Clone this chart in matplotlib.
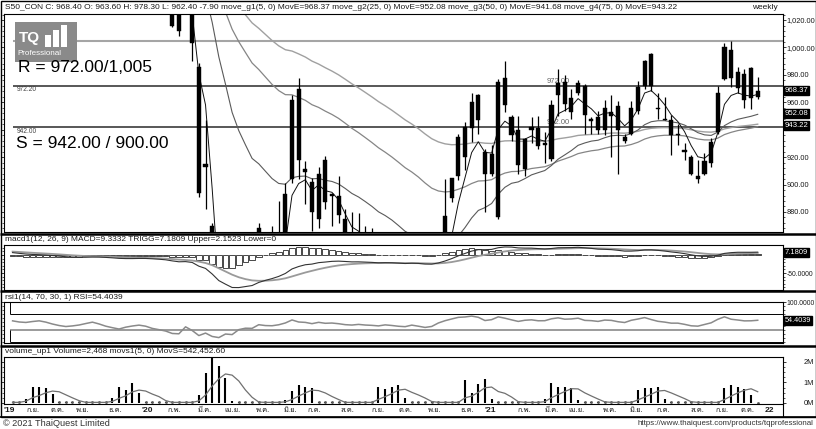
import numpy as np
import pandas as pd
import matplotlib
matplotlib.use("Agg")
import matplotlib.pyplot as plt
import matplotlib.transforms as mtransforms
from matplotlib import font_manager
from matplotlib.ft2font import FT2Font
from matplotlib.patches import Rectangle
from matplotlib.ticker import FixedLocator, MultipleLocator

# ---------------- data (weekly, S50 continuous futures) ----------------
pre_close = [1075, 1085, 1095, 1100, 1105, 1108, 1102, 1098, 1095, 1100,
             1105, 1112, 1118, 1115, 1108, 1095, 1090, 1098, 1105, 1115,
             1122, 1128, 1132, 1138, 1135, 1140, 1136, 1128, 1120, 1112]

open_ = [1112, 1105, 1100, 1098, 1102, 1105, 1100, 1092, 1085, 1080,
         1082, 1085, 1090, 1095, 1088, 1078, 1070, 1062, 1068, 1072,
         1075, 1070, 1058, 1050, 1040, 1030, 1030, 1040, 986, 915,
         870, 775, 690, 735, 705, 780, 805, 805, 860, 845,
         845, 858, 904, 970, 911, 902, 875, 918, 893, 892,
         875, 858, 850, 860, 848, 842, 832, 845, 835, 822,
         815, 832, 815, 795, 805, 845, 890, 906, 920, 941,
         965, 924, 908, 876, 978, 949, 940, 911, 942, 941,
         930, 919, 965, 975, 953, 967, 972, 946, 949, 940,
         950, 957, 935, 937, 954, 972, 995, 956, 947.5, 947,
         937, 925.5, 920, 906, 908, 916, 938.5, 977, 998, 982,
         981, 985, 963.6]
high = [1118, 1112, 1108, 1110, 1112, 1110, 1104, 1096, 1090, 1090,
        1092, 1096, 1102, 1098, 1092, 1082, 1074, 1072, 1078, 1080,
        1082, 1074, 1064, 1056, 1046, 1032, 1048, 1046, 989, 947,
        872, 800, 760, 752, 790, 815, 822, 872, 864, 870,
        888, 901, 965, 978, 917, 905, 913, 921, 894, 906,
        882, 880, 879, 870, 868, 858, 852, 856, 850, 838,
        842, 845, 830, 815, 852, 904, 905, 937, 945.6, 967,
        966, 926, 929, 977, 990, 950.4, 950, 934, 949, 950,
        938, 962, 984, 980, 970, 976, 973, 949, 954, 962,
        965, 961, 937, 961, 975.6, 991, 996, 967, 963.6, 950.4,
        944.4, 930, 921.6, 918, 922.8, 933.6, 972, 1003, 1005, 986,
        984, 985.5, 978.3]
low = [1098, 1092, 1090, 1094, 1096, 1093, 1086, 1078, 1072, 1075,
       1076, 1080, 1086, 1082, 1072, 1064, 1055, 1058, 1064, 1066,
       1064, 1052, 1044, 1034, 1015, 1008, 1027, 990, 891, 882,
       745, 640, 645, 690, 700, 770, 790, 800, 835, 830,
       840, 855, 901, 904, 886, 866, 868, 882, 870, 872,
       850, 845, 842, 840, 835, 825, 820, 828, 815, 805,
       808, 810, 790, 785, 800, 840, 887, 903.6, 910.8, 931,
       937, 880, 906, 875, 953, 932, 908, 906, 930, 926,
       916, 917, 950, 954, 948, 965, 937, 937, 937, 936,
       920, 908, 930, 936, 951.6, 970, 968, 948, 946.8, 921.6,
       928.8, 918, 907.2, 901, 907.2, 913, 937.2, 976, 970.8, 967,
       956, 955, 962.4]
close = [1105, 1100, 1098, 1102, 1105, 1100, 1092, 1085, 1080, 1082,
         1085, 1090, 1095, 1088, 1078, 1070, 1062, 1068, 1072, 1075,
         1070, 1058, 1050, 1040, 1016, 1012, 1040, 1003, 894, 913,
         775, 690, 735, 705, 780, 805, 800, 868, 845, 840,
         858, 893, 962, 918, 909, 880, 908, 887, 892, 878,
         858, 850, 860, 848, 842, 832, 845, 835, 822, 815,
         832, 815, 795, 805, 845, 877, 905, 935, 942, 960,
         947, 908, 922, 975, 958, 936, 914, 933, 940, 928,
         929, 958, 974, 959, 963, 974, 951, 948, 940, 956,
         953, 940, 932, 956, 971, 990, 972, 955, 947, 936,
         936, 924, 908, 904, 917, 931, 967, 1000, 978, 970.5,
         962, 962.95, 968.4]
# volume in millions of contracts
volume_m = [0.03, 0.03, 0.20, 0.77, 0.77, 0.72, 0.44, 0.03, 0.03, 0.03,
            0.03, 0.03, 0.03, 0.03, 0.03, 0.26, 0.77, 0.65, 0.99, 0.47,
            0.03, 0.03, 0.03, 0.03, 0.03, 0.03, 0.03, 0.03, 0.39, 1.45,
            2.23, 1.80, 1.20, 0.10, 0.03, 0.03, 0.03, 0.03, 0.03, 0.03,
            0.03, 0.15, 0.60, 0.88, 0.78, 0.72, 0.03, 0.03, 0.03, 0.03,
            0.03, 0.03, 0.03, 0.03, 0.03, 0.77, 0.68, 0.77, 0.88, 0.24,
            0.03, 0.03, 0.03, 0.03, 0.03, 0.03, 0.03, 0.03, 1.12, 0.47,
            0.93, 1.16, 0.20, 0.03, 0.03, 0.03, 0.03, 0.03, 0.03, 0.03,
            0.20, 0.99, 0.80, 0.77, 0.72, 0.15, 0.03, 0.03, 0.03, 0.03,
            0.03, 0.03, 0.03, 0.03, 0.63, 0.72, 0.72, 0.80, 0.18, 0.03,
            0.03, 0.03, 0.03, 0.03, 0.03, 0.03, 0.03, 0.72, 0.88, 0.80,
            0.67, 0.39, 0.0025]

month_labels = ["'19", "ก.ย.", "ต.ค.", "พ.ย.", "ธ.ค.", "'20", "ก.พ.", "มี.ค.", "เม.ย.", "พ.ค.",
                "มิ.ย.", "ก.ค.", "ส.ค.", "ก.ย.", "ต.ค.", "พ.ย.", "ธ.ค.", "'21", "ก.พ.", "มี.ค.",
                "เม.ย.", "พ.ค.", "มิ.ย.", "ก.ค.", "ส.ค.", "ก.ย.", "ต.ค.", "22"]
month_pos = [-0.5, 3.1, 6.8, 10.6, 15.4, 20.2, 24.4, 28.8, 33.1, 37.6,
             41.7, 45.4, 50.4, 54.9, 59.0, 63.5, 68.3, 71.8, 77.0, 81.1,
             84.8, 89.8, 93.8, 97.8, 102.9, 106.6, 110.5, 113.8]

price_ticks = [880, 900, 920, 940, 960, 980, 1000, 1020]
resistance_lines = [1005.0, 972.2]
support_lines = [942.0]
price_boxes = [968.37, 952.08, 943.22]   # MovE 5 / 25 / 75
macd_box = 7.1809
rsi_box = 54.4039

header_main = ("S50_CON C: 968.40 O: 963.60 H: 978.30 L: 962.40 -7.90 move_g1(5, 0) MovE=968.37 "
               "move_g2(25, 0) MovE=952.08 move_g3(50, 0) MovE=941.68 move_g4(75, 0) MovE=943.22")
header_macd = "macd1(12, 26, 9) MACD=9.3332 TRIGG=7.1809 Upper=2.1523 Lower=0"
header_rsi = "rsi1(14, 70, 30, 1) RSI=54.4039"
header_vol = "volume_up1 Volume=2,468 movs1(5, 0) MovS=542,452.60"

# ---------------- fonts ----------------
def font_with(ch):
    for fe in font_manager.fontManager.ttflist:
        try:
            if ord(ch) in FT2Font(fe.fname).get_charmap():
                return fe.name
        except Exception:
            continue
    return None

thai = font_with("ก")
fams = ["Liberation Sans"] + ([thai] if thai else []) + ["DejaVu Sans"]
plt.rcParams["font.family"] = fams

# ---------------- indicators ----------------
c_all = pd.Series(pre_close + close, dtype=float)
npre = len(pre_close)
def ema(s, n):
    return s.ewm(span=n, adjust=False).mean()
ma = {p: ema(c_all, p).iloc[npre:].to_numpy() for p in (5, 25, 50, 75)}
macd_all = ema(c_all, 12) - ema(c_all, 26)
trig_all = macd_all.ewm(span=9, adjust=False).mean()
macd = macd_all.iloc[npre:].to_numpy()
trig = trig_all.iloc[npre:].to_numpy()
hist = macd - trig
d = c_all.diff()
up = d.clip(lower=0).ewm(alpha=1 / 14, adjust=False).mean()
dn = (-d.clip(upper=0)).ewm(alpha=1 / 14, adjust=False).mean()
rsi = (100 - 100 / (1 + up / dn)).iloc[npre:].to_numpy()
vol = np.array(volume_m)
vol_ma = pd.Series(vol).rolling(5, min_periods=1).mean().to_numpy()

o = np.array(open_, float); c = np.array(close, float)
hi = np.array(high, float); lo = np.array(low, float)
x = np.arange(len(close))

# ---------------- figure ----------------
W, H = 816, 429
fig = plt.figure(figsize=(W / 100, H / 100), dpi=100)

def px_axes(x0, y0, x1, y1, **kw):
    return fig.add_axes([x0 / W, 1 - y1 / H, (x1 - x0) / W, (y1 - y0) / H], **kw)

X0, X1 = 4, 783
XL = (-1.29, 115.8)
TXT = "#1a1a1a"
LFS = 5.3

def style(a, lfs=LFS):
    a.set_xlim(*XL)
    for s in a.spines.values():
        s.set_linewidth(0.8)
        s.set_color("black")
    a.tick_params(axis="y", which="both", left=True, right=True, labelleft=False,
                  labelright=True, direction="out", labelsize=lfs, pad=0.6, colors=TXT)
    a.tick_params(axis="y", which="major", length=2.0, width=0.6)
    a.tick_params(axis="y", which="minor", length=1.3, width=0.5)

def box(a, v, s, fs=LFS):
    tr = mtransforms.blended_transform_factory(a.transAxes, a.transData)
    a.text(1.002, v, s, transform=tr, ha="left", va="center", fontsize=fs, color="white",
           bbox=dict(boxstyle="square,pad=0.12", fc="black", ec="black"), clip_on=False, zorder=6)

# main price panel
ax = px_axes(X0, 14, X1, 232)
style(ax)
ax.set_ylim(865.4, 1024.4)
ax.hlines(resistance_lines[0], 0, XL[1], color="#a5a5a5", lw=1.5, zorder=1)
ax.hlines(resistance_lines[1:] + support_lines, 0, XL[1], color="#2a2a2a", lw=1.1, zorder=1)
ax.plot(x, ma[75], color="#a0a0a0", lw=1.0, zorder=2)
ax.plot(x, ma[50], color="#858585", lw=0.9, zorder=2)
ax.plot(x, ma[25], color="#5a5a5a", lw=0.8, zorder=2)
ax.plot(x, ma[5], color="#101010", lw=0.7, zorder=2)
ax.vlines(x, lo, hi, color="black", lw=0.9, zorder=3)
ax.bar(x, np.maximum(np.abs(c - o), 0.5), bottom=np.minimum(o, c), width=0.62,
       color="black", edgecolor="black", lw=0.3, zorder=4)
ax.yaxis.set_major_locator(FixedLocator(price_ticks))
ax.yaxis.set_major_formatter(lambda v, p: "" if v == 940 else f"{v:,.2f}")
ax.yaxis.set_minor_locator(MultipleLocator(4))
ax.set_xticks([])
for v in price_boxes:
    box(ax, v, f"{v:.2f}", 5.6)
ax.text(0.7, resistance_lines[1] - 2.6, f"{resistance_lines[1]:.2f}", fontsize=4.8, color="#444", va="center")
ax.text(0.7, support_lines[0] - 3.6, f"{support_lines[0]:.2f}", fontsize=4.8, color="#444", va="center")
ax.text(80.3, resistance_lines[1] + 3.2, "972.00", fontsize=5.5, color="#666", va="center", zorder=2)
ax.text(80.3, support_lines[0] + 3.2, f"{support_lines[0]:.2f}", fontsize=5.5, color="#666", va="center", zorder=2)

# MACD panel
am = px_axes(X0, 245, X1, 290)
style(am, 4.9)
am.set_ylim(-97, 27.8)
am.bar(x, hist, width=0.85, color="white", edgecolor="black", lw=0.5, zorder=2)
am.plot(x, trig, color="#9a9a9a", lw=1.3, zorder=3)
am.plot(x, macd, color="#333333", lw=0.8, zorder=3)
am.set_yticks([-50, 0])
am.set_yticklabels(["-50.0000", ""])
am.yaxis.set_minor_locator(MultipleLocator(10))
am.set_xticks([])
box(am, macd_box, f"{macd_box:.4f}", 5.4)

# RSI panel
ar = px_axes(X0, 302, X1, 343)
style(ar, 4.9)
ar.set_ylim(-2, 101)
ar.hlines([100, 70, 0], -0.4, XL[1], color="black", lw=0.7)
ar.hlines([30], -0.4, XL[1], color="#8a8a8a", lw=1.2)
ar.vlines([-0.4, -0.4], [70, 0], [100, 30], color="black", lw=0.7)
ar.plot(x, rsi, color="#8a8a8a", lw=1.1)
ar.set_yticks([100])
ar.set_yticklabels(["100.0000"])
ar.yaxis.set_minor_locator(MultipleLocator(10))
ar.set_xticks([])
box(ar, rsi_box, f"{rsi_box:.4f}", 5.2)

# Volume panel
av = px_axes(X0, 357, X1, 404)
style(av)
av.set_ylim(-0.05, 2.24)
av.vlines(x, 0, vol, color="black", lw=1.5, zorder=2)
small = vol < 0.1
av.plot(x[small], vol[small], ls="none", marker="s", ms=0.9, color="#555555", zorder=2)
av.plot(x, vol_ma, color="#707070", lw=0.9, zorder=3)
av.set_yticks([0, 1, 2])
av.set_yticklabels(["0M", "1M", "2M"])
av.yaxis.set_minor_locator(MultipleLocator(0.25))
av.tick_params(axis="y", which="major", pad=13)
av.set_xticks(month_pos)
av.set_xticklabels(month_labels, fontsize=5.4, color=TXT)
av.tick_params(axis="x", length=0, pad=2.2)
for t in av.get_xticklabels():
    if t.get_text().startswith("'") or t.get_text() == "22":
        t.set_fontweight("bold")
        t.set_fontsize(6)

# ---------------- overlay decorations ----------------
ov = fig.add_axes([0, 0, 1, 1], zorder=20)
ov.set_xlim(0, W); ov.set_ylim(H, 0); ov.axis("off"); ov.patch.set_alpha(0)
ov.add_patch(Rectangle((0.5, 0.5), W - 1, 416, fill=False, ec="black", lw=1.0))
ov.hlines([233.5, 291.3, 345.5], 0, W, color="black", lw=1.8)
ov.hlines([416.5], 0, W, color="black", lw=1.2)
ov.vlines([X1], 404, 416.5, color="black", lw=0.8)

HFS = 6.0
ov.text(5, 7.5, header_main, fontsize=HFS, color=TXT, va="center", ha="left")
ov.text(752, 7.5, "weekly", fontsize=HFS, color=TXT, va="center", ha="left")
ov.text(5, 239.5, header_macd, fontsize=HFS, color=TXT, va="center")
ov.text(5, 297.2, header_rsi, fontsize=HFS, color=TXT, va="center")
ov.text(5, 351.5, header_vol, fontsize=HFS, color=TXT, va="center")
ov.text(3, 423.5, "© 2021 ThaiQuest Limited", fontsize=6.6, color="#333", va="center")
ov.text(637, 423.5, "https://www.thaiquest.com/products/tqprofessional", fontsize=5.7,
        color="#333", va="center")

# logo
ov.add_patch(Rectangle((15, 22), 62, 40, fc="#8a8a8a", ec="none"))
ov.text(19, 38, "TQ", fontsize=11, color="white", fontweight="bold", va="center")
for bx, by in [(45, 35), (53, 30), (61, 25)]:
    ov.add_patch(Rectangle((bx, by), 6, 47 - by, fc="white", ec="none"))
ov.text(17, 53.5, "Professional", fontsize=5.8, color="white", va="center")

ov.text(18, 72.5, "R = 972.00/1,005", fontsize=12.5, color="black", va="baseline")
ov.text(16, 148.5, "S = 942.00 / 900.00", fontsize=12.5, color="black", va="baseline")

fig.savefig("out.png", dpi=100)
